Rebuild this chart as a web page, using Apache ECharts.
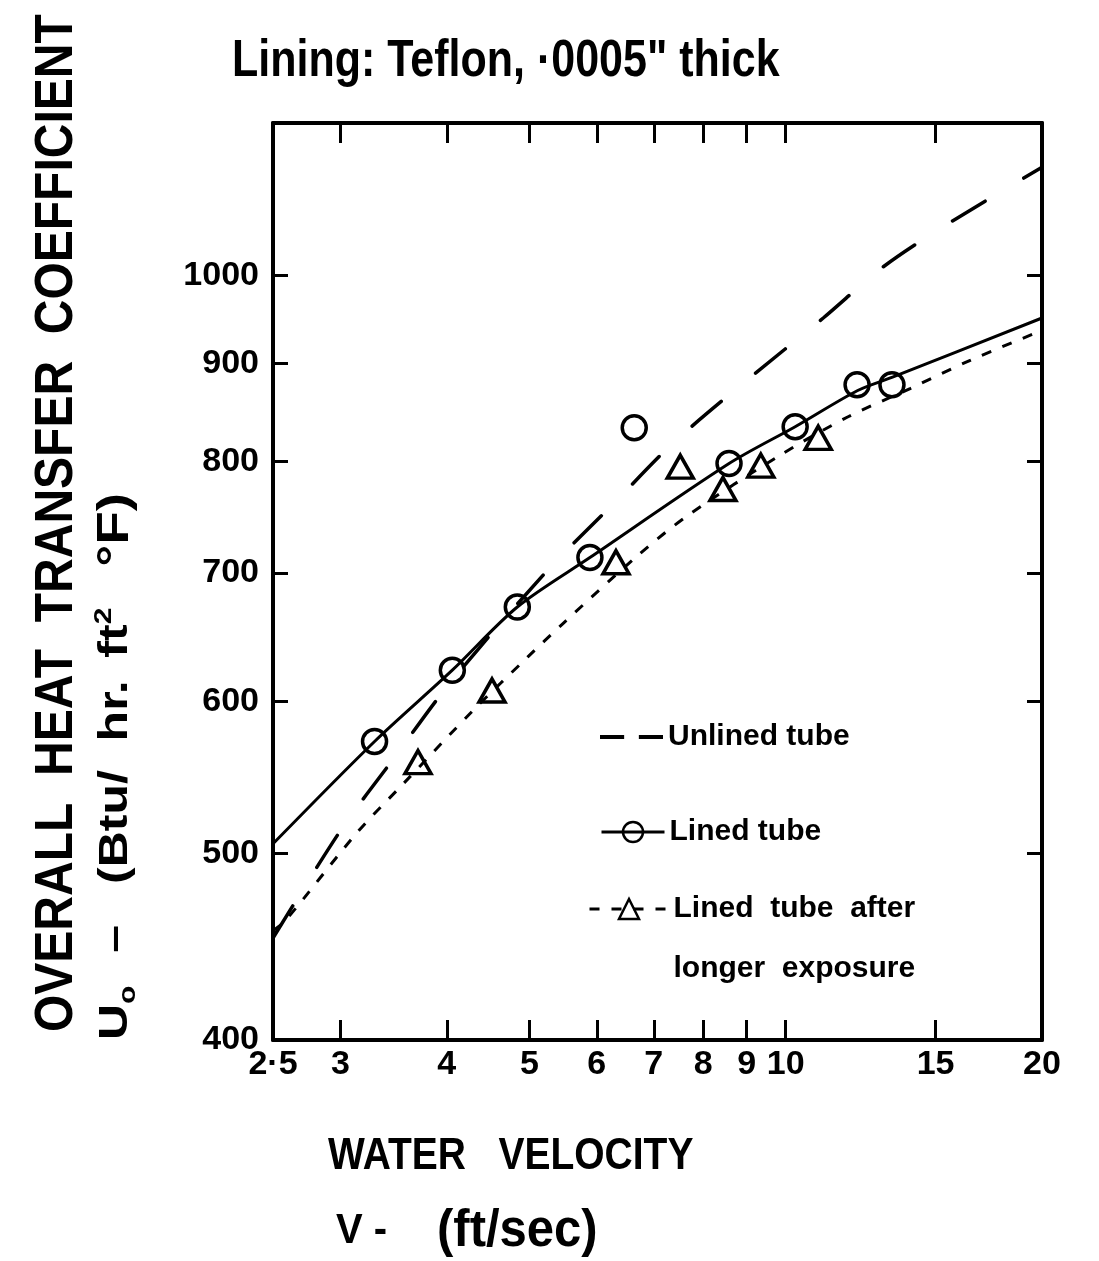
<!DOCTYPE html>
<html>
<head>
<meta charset="utf-8">
<title>Overall heat transfer coefficient vs water velocity</title>
<script src="https://cdn.jsdelivr.net/npm/echarts@6/dist/echarts.min.js"></script>
<style>
  html, body { margin: 0; padding: 0; background: #fff; }
  #chart { width: 1099px; height: 1261px; }
</style>
</head>
<body>
<div id="chart"></div>
<script>
// Axis ticks (both axes are logarithmic)
const velocityTicks = [2.5, 3, 4, 5, 6, 7, 8, 9, 10, 15, 20];
const velocityTickLabels = ['2·5', '3', '4', '5', '6', '7', '8', '9', '10', '15', '20'];
const coefTicks = [400, 500, 600, 700, 800, 900, 1000];
const coefTickLabels = ['400', '500', '600', '700', '800', '900', '1000'];

// Unlined tube – dashed curve (V ft/sec, U Btu/hr ft2 °F)
const unlinedV = [2.5, 3.0, 3.46, 4.04, 5.25, 6.25, 7.38, 9.01, 11.07, 12.98, 15.27, 20];
const unlinedU = [452, 514, 560, 614, 702, 759, 818, 882, 950, 1009, 1059, 1138];

// Lined tube – faired curve
const linedCurveV = [2.5, 3.29, 4.06, 4.84, 5.89, 8.58, 10.26, 12.15, 13.35, 20];
const linedCurveU = [506, 572, 623, 672, 713, 798, 834, 871, 885, 950];

// Lined tube – measured points
const linedV = [3.29, 4.06, 4.84, 5.89, 6.64, 8.58, 10.26, 12.13, 13.33];
const linedU = [572, 623, 672, 713, 833, 798, 834, 877, 877];

// Lined tube after longer exposure – faired curve
const exposedCurveV = [2.5, 2.58, 3.14, 3.56, 4.30, 4.98, 5.46, 6.71, 7.68, 9.85, 11.84, 14.0, 16.47, 20];
const exposedCurveU = [456, 461, 513, 544, 594, 633, 658, 715, 750, 806, 844, 873, 903, 936];

// Lined tube after longer exposure – measured points
const exposedV = [3.70, 4.52, 6.32, 7.52, 8.44, 9.35, 10.92];
const exposedU = [558, 608, 709, 795, 774, 796, 823];

const lg = Math.log10;
const toLog = (xs, ys) => xs.map((x, i) => [lg(x), lg(ys[i])]);
const labelFor = (ticks, labels) => (v) => {
  const i = ticks.findIndex(t => Math.abs(lg(t) - v) < 1e-6);
  return i >= 0 ? labels[i] : '';
};

const FONT = '"Liberation Sans", "DejaVu Sans", Arial, sans-serif';
const INK = '#000';
const CLEAR = 'rgba(255,255,255,0)';

const NAME_UNLINED = 'Unlined tube';
const NAME_LINED = 'Lined tube';
const NAME_EXPOSED = 'Lined tube after longer exposure';

const legendText = { color: INK, fontFamily: FONT, fontWeight: 'bold', fontSize: 30 };

// rich-text style helper for the rotated unit label
const unitTok = (size, extra) => Object.assign(
  { fontFamily: FONT, fontWeight: 'bold', fontSize: size, lineHeight: 48, fill: INK }, extra || {});

const chart = echarts.init(document.getElementById('chart'), null, { renderer: 'canvas' });

chart.setOption({
  animation: false,
  backgroundColor: '#fff',
  color: [INK],
  grid: { left: 273, right: 57, top: 123, bottom: 221, containLabel: false },
  xAxis: [
    {
      type: 'value', position: 'bottom',
      min: lg(2.5), max: lg(20),
      axisLine: { show: true, onZero: false, lineStyle: { color: INK, width: 4 } },
      axisTick: { show: true, inside: true, length: 20, lineStyle: { color: INK, width: 3 },
        customValues: velocityTicks.slice(1, -1).map(lg) },
      axisLabel: { show: true, margin: 8, color: INK, fontFamily: FONT, fontWeight: 'bold', fontSize: 34,
        customValues: velocityTicks.map(lg), showMinLabel: true, showMaxLabel: true,
        formatter: labelFor(velocityTicks, velocityTickLabels) },
      splitLine: { show: false }
    },
    {
      type: 'value', position: 'top',
      min: lg(2.5), max: lg(20),
      axisLine: { show: true, onZero: false, lineStyle: { color: INK, width: 4 } },
      axisTick: { show: true, inside: true, length: 20, lineStyle: { color: INK, width: 3 },
        customValues: velocityTicks.slice(1, -1).map(lg) },
      axisLabel: { show: false },
      splitLine: { show: false }
    }
  ],
  yAxis: [
    {
      type: 'value', position: 'left',
      min: lg(400), max: lg(1200),
      axisLine: { show: true, onZero: false, lineStyle: { color: INK, width: 4 } },
      axisTick: { show: true, inside: true, length: 15, lineStyle: { color: INK, width: 3 },
        customValues: coefTicks.slice(1).map(lg) },
      axisLabel: { show: true, margin: 14, color: INK, fontFamily: FONT, fontWeight: 'bold', fontSize: 34,
        customValues: coefTicks.map(lg), showMinLabel: true,
        formatter: labelFor(coefTicks, coefTickLabels) },
      splitLine: { show: false }
    },
    {
      type: 'value', position: 'right',
      min: lg(400), max: lg(1200),
      axisLine: { show: true, onZero: false, lineStyle: { color: INK, width: 4 } },
      axisTick: { show: true, inside: true, length: 15, lineStyle: { color: INK, width: 3 },
        customValues: coefTicks.slice(1).map(lg) },
      axisLabel: { show: false },
      splitLine: { show: false }
    }
  ],
  legend: [
    {
      selectedMode: false, orient: 'vertical', padding: 0, left: 600, top: 722,
      itemWidth: 63, itemHeight: 25,
      itemStyle: { color: INK },
      data: [{ name: NAME_UNLINED, icon: 'path://M0,0h23v4h-23z M37,0h23v4h-23z' }],
      textStyle: legendText
    },
    {
      selectedMode: false, orient: 'vertical', padding: 0, left: 600, top: 817,
      itemWidth: 63, itemHeight: 25,
      lineStyle: { width: 3 },
      itemStyle: { color: CLEAR, borderColor: INK, borderWidth: 2.5 },
      data: [NAME_LINED],
      textStyle: legendText
    },
    {
      selectedMode: false, orient: 'vertical', padding: 0, left: 588, top: 819,
      itemWidth: 79, itemHeight: 25,
      lineStyle: { width: 3 },
      itemStyle: { color: CLEAR, borderColor: INK, borderWidth: 2.5 },
      data: [NAME_EXPOSED],
      // blank first line keeps "Lined tube after" level with the key symbol
      formatter: () => '\nLined  tube  after\nlonger  exposure',
      textStyle: Object.assign({}, legendText, { lineHeight: 60 })
    }
  ],
  series: [
    {
      name: NAME_UNLINED, type: 'line', xAxisIndex: 0, yAxisIndex: 0,
      data: toLog(unlinedV, unlinedU), smooth: 0.3,
      symbol: 'none', silent: true,
      itemStyle: { color: INK },
      lineStyle: { color: INK, width: 3.5, type: [38, 45], cap: 'round' }
    },
    {
      name: NAME_LINED, type: 'line', xAxisIndex: 0, yAxisIndex: 0,
      data: toLog(linedCurveV, linedCurveU), smooth: 0.3,
      symbol: 'circle', showSymbol: false, silent: true,
      itemStyle: { color: CLEAR, borderColor: INK, borderWidth: 2.5 },
      lineStyle: { color: INK, width: 3 }
    },
    {
      name: 'Lined tube (measured)', type: 'scatter', xAxisIndex: 0, yAxisIndex: 0,
      data: toLog(linedV, linedU), symbol: 'circle', symbolSize: 24, silent: true,
      itemStyle: { color: CLEAR, borderColor: INK, borderWidth: 3.5, opacity: 1 }, z: 5
    },
    {
      name: NAME_EXPOSED, type: 'line', xAxisIndex: 0, yAxisIndex: 0,
      data: toLog(exposedCurveV, exposedCurveU), smooth: 0.3,
      symbol: 'triangle', showSymbol: false, silent: true,
      itemStyle: { color: CLEAR, borderColor: INK, borderWidth: 2.5 },
      lineStyle: { color: INK, width: 3, type: [10, 12] }
    },
    {
      name: 'Lined tube after longer exposure (measured)', type: 'scatter', xAxisIndex: 0, yAxisIndex: 0,
      data: toLog(exposedV, exposedU), symbol: 'triangle', symbolSize: [26, 23], silent: true,
      itemStyle: { color: CLEAR, borderColor: INK, borderWidth: 3.5, opacity: 1 }, z: 5
    }
  ],
  graphic: [
    {
      type: 'text', left: 232, top: 36, scaleY: 1.2,
      style: { text: 'Lining: Teflon, ·0005" thick', fill: INK, font: 'bold 43px ' + FONT }
    },
    {
      type: 'text', x: 57, y: 1032, rotation: Math.PI / 2, scaleY: 1.1,
      style: { text: 'OVERALL  HEAT  TRANSFER  COEFFICIENT', fill: INK, font: 'bold 48px ' + FONT,
        align: 'left', verticalAlign: 'middle' }
    },
    {
      type: 'text', x: 116, y: 1040, rotation: Math.PI / 2, scaleX: 1.25,
      style: {
        text: '{m|U}{s|o}{d|–}{b|(Btu/}{h|hr.}{m|ft}{p|2}{e|°F)}',
        fill: INK, align: 'left', verticalAlign: 'middle',
        rich: {
          m: unitTok(40),
          s: unitTok(24, { width: 41, verticalAlign: 'bottom' }),
          d: unitTok(40, { width: 55 }),
          b: unitTok(40, { width: 114 }),
          h: unitTok(40, { width: 67 }),
          p: unitTok(24, { width: 46, verticalAlign: 'top' }),
          e: unitTok(44)
        }
      }
    },
    {
      type: 'text', left: 328, top: 1134, scaleY: 1.15,
      style: { text: 'WATER   VELOCITY', fill: INK, font: 'bold 39px ' + FONT }
    },
    {
      type: 'text', left: 336, top: 1206, scaleY: 1.05,
      style: {
        text: '{a|V -}{b|(ft/sec)}',
        fill: INK,
        rich: {
          a: { fontFamily: FONT, fontWeight: 'bold', fontSize: 40, width: 101, fill: INK },
          b: { fontFamily: FONT, fontWeight: 'bold', fontSize: 49, fill: INK }
        }
      }
    }
  ]
});
</script>
</body>
</html>
